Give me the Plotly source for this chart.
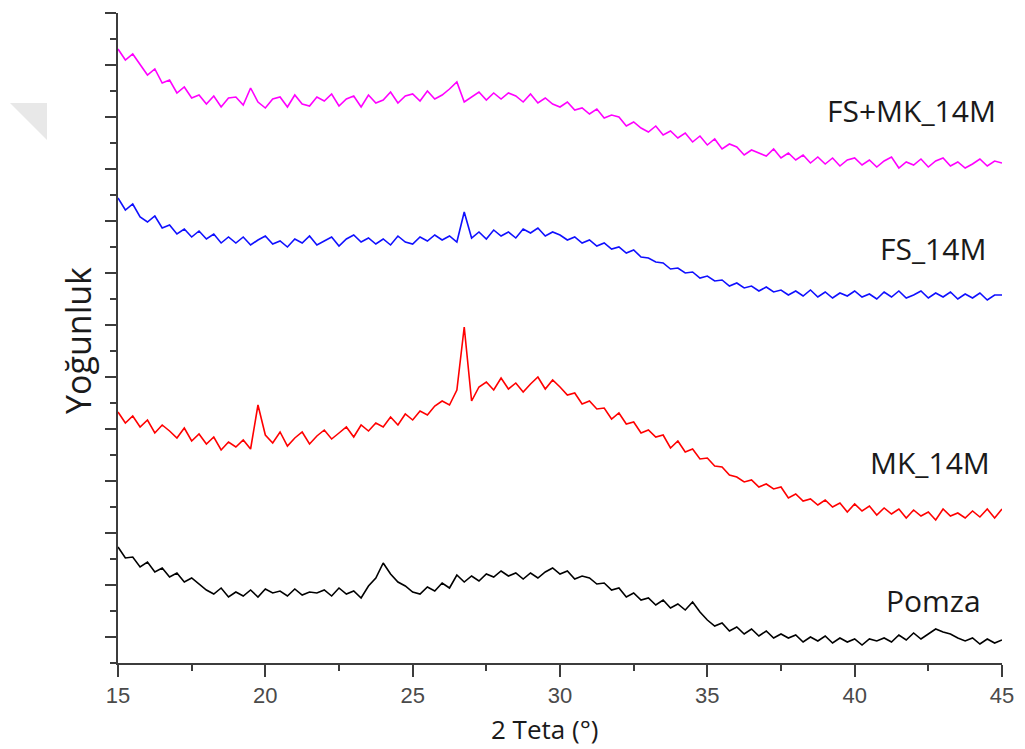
import numpy as np
import plotly.graph_objects as go

# 2-theta scan grid (step 0.25 deg)
two_theta = np.round(np.arange(15.0, 45.001, 0.25), 2)

# Intensities (arbitrary units)
fs_mk_14m = [614,603,609,599, 588,594,580,583, 570,576,565,568, 559,567,556,565, 566,558,575,561,
             555,564,566,556, 568,559,557,566, 562,569,557,564, 567,556,568,560, 563,571,560,567,
             569,562,572,564, 568,574,581,561, 566,571,563,570, 564,570,567,561, 569,560,565,559,
             556,561,553,555, 549,554,545,548, 546,537,541,535, 531,537,528,532, 525,530,521,527,
             518,524,514,519, 516,508,513,510, 507,514,505,510, 503,508,500,506, 499,505,497,503,
             505,498,503,496, 502,506,495,501, 498,504,496,502, 505,497,501,495, 499,504,497,502, 500]

fs_14m = [465,453,459,446, 441,447,435,438, 429,434,426,432, 424,429,420,426, 420,426,418,423,
          427,419,422,416, 424,420,427,418, 422,426,417,424, 428,421,425,419, 424,418,427,421,
          419,426,422,428, 423,427,421,451, 425,431,424,433, 427,431,425,434, 430,435,427,431,
          428,423,426,420, 423,417,420,414, 416,410,413,406, 405,401,400,394, 395,390,391,385,
          387,382,383,377, 380,375,377,372, 376,371,373,368, 372,367,373,366, 371,365,370,367,
          372,366,369,364, 371,366,372,365, 368,372,365,370, 366,371,364,369, 365,370,363,368, 368]

mk_14m = [251,240,247,236, 243,230,238,232, 225,235,222,229, 219,226,213,221, 216,223,214,258,
          228,220,231,217, 225,231,219,227, 233,224,230,236, 226,238,232,240, 236,246,238,249,
          243,252,248,257, 262,258,273,336, 262,276,281,273, 285,274,280,271, 279,286,274,283,
          276,268,270,259, 262,254,255,244, 250,239,241,230, 233,226,228,215, 222,211,214,204,
          205,197,196,188, 186,181,183,176, 179,174,176,165, 169,162,164,158, 163,156,160,151,
          159,152,157,148, 155,149,154,145, 153,147,151,143, 154,147,150,145, 152,146,154,145, 154]

pomza = [116,105,106,96, 101,91,95,86, 90,81,85,79, 73,69,75,66, 71,67,73,66,
         74,70,72,67, 74,68,71,70, 73,67,75,69, 72,65,77,85, 100,89,81,77,
         71,69,76,72, 80,75,88,81, 87,82,89,86, 92,87,90,84, 90,85,91,95,
         89,92,84,87, 85,79,80,73, 75,66,70,63, 65,58,63,55, 59,53,61,51,
         43,37,40,32, 36,29,34,27, 32,25,29,25, 28,21,26,22, 27,20,25,21,
         24,18,24,22, 25,21,28,23, 30,24,29,34, 31,29,25,22, 25,19,24,20, 23]

series_names = ["Pomza", "MK_14M", "FS_14M", "FS+MK_14M"]
series_vals = [pomza, mk_14m, fs_14m, fs_mk_14m]
series_colors = ["#000000", "#ff0000", "#1010ff", "#ff00ff"]
label_x = [42.69, 42.55, 42.66, 41.94]
label_y = [63, 201, 415, 553]

fig = go.Figure()
for name, vals, col in zip(series_names, series_vals, series_colors):
    fig.add_trace(go.Scatter(x=two_theta, y=vals, mode="lines", name=name,
                             line=dict(color=col, width=1.6), showlegend=False))

for name, lx, ly in zip(series_names, label_x, label_y):
    fig.add_annotation(x=lx, y=ly, xref="x", yref="y", text=name, showarrow=False,
                       font=dict(family="Open Sans", size=30, color="#1a1a1a"),
                       xanchor="center", yanchor="middle")

# axis titles as annotations
fig.add_annotation(x=0.483, y=-0.101, xref="paper", yref="paper", text="2 Teta (°)",
                   showarrow=False, font=dict(family="Open Sans", size=26, color="#1a1a1a"),
                   xanchor="center", yanchor="middle")
fig.add_annotation(x=-0.046, y=0.496, xref="paper", yref="paper", text="Yoğunluk",
                   showarrow=False, textangle=-90,
                   font=dict(family="Open Sans", size=34, color="#1a1a1a"),
                   xanchor="center", yanchor="middle")

# faint watermark triangle at top-left
fig.add_shape(type="path", xref="paper", yref="paper",
              path="M -0.1222 0.8615 L -0.0803 0.8615 L -0.0803 0.8046 Z",
              fillcolor="#e8e8e8", line=dict(width=0), layer="below")

axis_col = "#3c3c3c"
fig.update_xaxes(range=[15, 45], showline=True, linecolor=axis_col, linewidth=2,
                 ticks="outside", ticklen=12, tickwidth=2, tickcolor=axis_col,
                 tick0=15, dtick=5, showgrid=False, zeroline=False,
                 tickfont=dict(family="Liberation Sans", size=22, color="#4a4a4a"),
                 ticklabelstandoff=0,
                 minor=dict(dtick=2.5, tick0=15, ticklen=6, tickwidth=2,
                            tickcolor=axis_col, ticks="outside", showgrid=False))
fig.update_yaxes(range=[0, 650], showline=True, linecolor=axis_col, linewidth=2,
                 ticks="outside", ticklen=11, tickwidth=2, tickcolor=axis_col,
                 tick0=26, dtick=52, showgrid=False, zeroline=False,
                 showticklabels=False,
                 minor=dict(dtick=26, tick0=0, ticklen=6, tickwidth=2,
                            tickcolor=axis_col, ticks="outside", showgrid=False))

fig.update_layout(width=1017, height=741, plot_bgcolor="white", paper_bgcolor="white",
                  margin=dict(l=110, r=23, t=5, b=86))

fig.write_html("out.html")
